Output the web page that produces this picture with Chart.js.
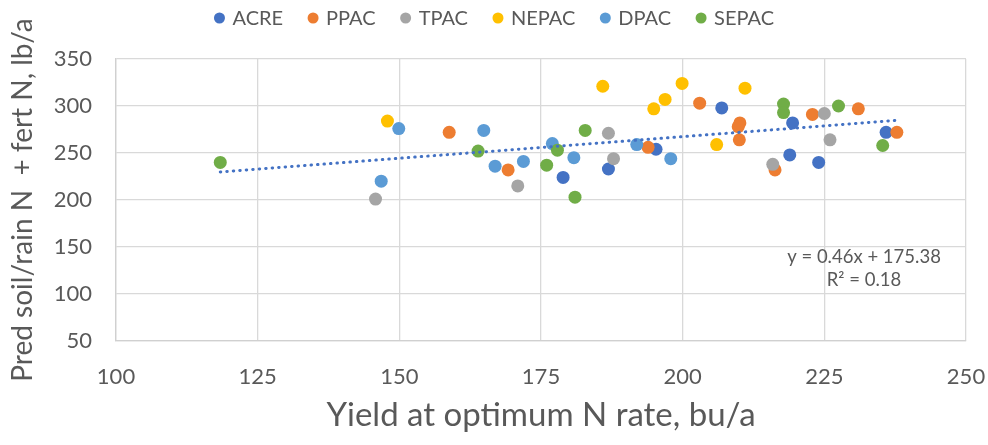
<!DOCTYPE html>
<html>
<head>
<meta charset="utf-8">
<script src="https://cdn.jsdelivr.net/npm/chart.js@4.4.1/dist/chart.umd.min.js"></script>
<style>
  html, body { margin: 0; padding: 0; background: #ffffff; }
  #wrap { width: 988px; height: 445px; }
</style>
</head>
<body>
<div id="wrap"><canvas id="chart" width="988" height="445"></canvas></div>
<script>
// Station series: yield at optimum N rate (bu/a) vs predicted soil/rain N + fert N (lb/a)
const seriesNames  = ['ACRE', 'PPAC', 'TPAC', 'NEPAC', 'DPAC', 'SEPAC'];
const seriesColors = ['#4472C4', '#ED7D31', '#A5A5A5', '#FFC000', '#5B9BD5', '#70AD47'];

const acreYield  = [178.9, 186.9, 195.3, 206.9, 219.4, 218.9, 224.0, 235.9];
const acreN      = [224, 233, 254, 298, 282, 248, 240, 272];

const ppacYield  = [158.8, 169.2, 193.9, 203.0, 210.1, 209.8, 210.0, 216.3, 222.9, 231.0, 237.8];
const ppacN      = [272, 232, 256, 303, 282, 278, 264, 232, 291, 297, 272];

const tpacYield  = [145.8, 170.9, 186.9, 187.8, 215.9, 225.0, 226.0];
const tpacN      = [201, 215, 271, 244, 238, 292, 264];

const nepacYield = [147.9, 185.9, 194.9, 196.9, 199.9, 206.0, 211.0];
const nepacN     = [284, 321, 297, 307, 324, 259, 319];

const dpacYield  = [146.8, 149.9, 164.9, 166.9, 171.9, 177.0, 180.8, 191.9, 197.9];
const dpacN      = [220, 276, 274, 236, 241, 260, 245, 259, 244];

const sepacYield = [118.4, 163.9, 176.0, 177.9, 181.0, 182.8, 217.8, 217.8, 227.5, 235.3];
const sepacN     = [240, 252, 237, 253, 203, 274, 302, 293, 300, 258];

// Linear trend fitted over all stations
const trendSlope = 0.46;
const trendIntercept = 175.38;
const trendLabels = ['y = 0.46x + 175.38', 'R\u00B2 = 0.18'];

// Axis ticks
const xTicks = [100, 125, 150, 175, 200, 225, 250];
const yTicks = [50, 100, 150, 200, 250, 300, 350];

const yieldSets = [acreYield, ppacYield, tpacYield, nepacYield, dpacYield, sepacYield];
const nSets     = [acreN, ppacN, tpacN, nepacN, dpacN, sepacN];

const FONT = 'Lato';
const TEXT = '#595959';

const pointDatasets = seriesNames.map((name, i) => ({
  label: name,
  data: yieldSets[i].map((x, j) => ({ x: x, y: nSets[i][j] })),
  backgroundColor: seriesColors[i],
  borderColor: seriesColors[i],
  borderWidth: 0,
  pointRadius: 6.5,
  pointHoverRadius: 6.5,
  order: seriesNames.length - i
}));

const allYield = [].concat(...yieldSets);
const xLo = Math.min(...allYield);
const xHi = Math.max(...allYield);

const trendDataset = {
  label: 'Linear trend',
  isTrend: true,
  data: [
    { x: xLo, y: trendSlope * xLo + trendIntercept },
    { x: xHi, y: trendSlope * xHi + trendIntercept }
  ],
  showLine: true,
  borderColor: '#4472C4',
  borderWidth: 3,
  borderDash: [0.5, 6],
  borderCapStyle: 'round',
  pointRadius: 0,
  order: 0
};

// Legend row across the top, centred on the canvas
const legendRow = {
  id: 'legendRow',
  afterDraw(chart) {
    const ctx = chart.ctx;
    const items = chart.data.datasets.filter(d => !d.isTrend);
    ctx.save();
    ctx.font = '20px ' + FONT;
    const r = 5.5, textGap = 13, itemGap = 30;
    const widths = items.map(d => ctx.measureText(d.label).width);
    let total = 0;
    widths.forEach((w, i) => { total += r + textGap + w + (i < widths.length - 1 ? itemGap - r : 0); });
    let x = chart.width / 2 - total / 2;
    const y = 18;
    items.forEach((d, i) => {
      const cx = x + r;
      ctx.beginPath();
      ctx.arc(cx, y, r, 0, Math.PI * 2);
      ctx.fillStyle = d.backgroundColor;
      ctx.fill();
      ctx.fillStyle = TEXT;
      ctx.textBaseline = 'middle';
      ctx.textAlign = 'left';
      ctx.fillText(d.label, cx + textGap, y + 1);
      x = cx + textGap + widths[i] + itemGap - r;
    });
    ctx.restore();
  }
};

// Trend equation and R² beside the line
const trendText = {
  id: 'trendText',
  afterDraw(chart) {
    const ctx = chart.ctx;
    const xs = chart.scales.x, ys = chart.scales.y;
    ctx.save();
    ctx.font = '18.5px ' + FONT;
    ctx.fillStyle = TEXT;
    ctx.textAlign = 'center';
    ctx.textBaseline = 'middle';
    const px = xs.getPixelForValue(232);
    ctx.fillText(trendLabels[0], px, ys.getPixelForValue(139));
    ctx.fillText(trendLabels[1], px, ys.getPixelForValue(115));
    ctx.restore();
  }
};

new Chart(document.getElementById('chart'), {
  type: 'scatter',
  data: { datasets: pointDatasets.concat([trendDataset]) },
  plugins: [legendRow, trendText],
  options: {
    responsive: false,
    animation: false,
    layout: { padding: { top: 59, right: 0, bottom: 0, left: 0 } },
    plugins: {
      legend: { display: false },
      tooltip: { enabled: false }
    },
    scales: {
      x: {
        type: 'linear',
        min: xTicks[0],
        max: xTicks[xTicks.length - 1],
        afterBuildTicks(scale) { scale.ticks = xTicks.map(v => ({ value: v })); },
        afterFit(scale) {
          scale.height = 104;
          scale.paddingLeft = 0;
          scale.paddingRight = 22;
        },
        ticks: { color: TEXT, font: { family: FONT, size: 22 }, padding: 23 },
        grid: { color: '#D9D9D9', lineWidth: 1.3, drawTicks: false },
        border: { color: '#D0D0D0', width: 1.3 },
        title: {
          display: true,
          text: 'Yield at optimum N rate, bu/a',
          color: TEXT,
          font: { family: FONT, size: 33 },
          padding: { top: 0, bottom: 10 }
        }
      },
      y: {
        type: 'linear',
        min: yTicks[0],
        max: yTicks[yTicks.length - 1],
        afterBuildTicks(scale) { scale.ticks = yTicks.map(v => ({ value: v })); },
        afterFit(scale) { scale.width = 116; },
        ticks: { color: TEXT, font: { family: FONT, size: 22 }, padding: 24 },
        grid: { color: '#D9D9D9', lineWidth: 1.3, drawTicks: false },
        border: { color: '#D0D0D0', width: 1.3 },
        title: {
          display: true,
          text: 'Pred soil/rain N  + fert N, lb/a',
          color: TEXT,
          font: { family: FONT, size: 28 },
          padding: { top: 6, bottom: 0 }
        }
      }
    }
  }
});
</script>
</body>
</html>
